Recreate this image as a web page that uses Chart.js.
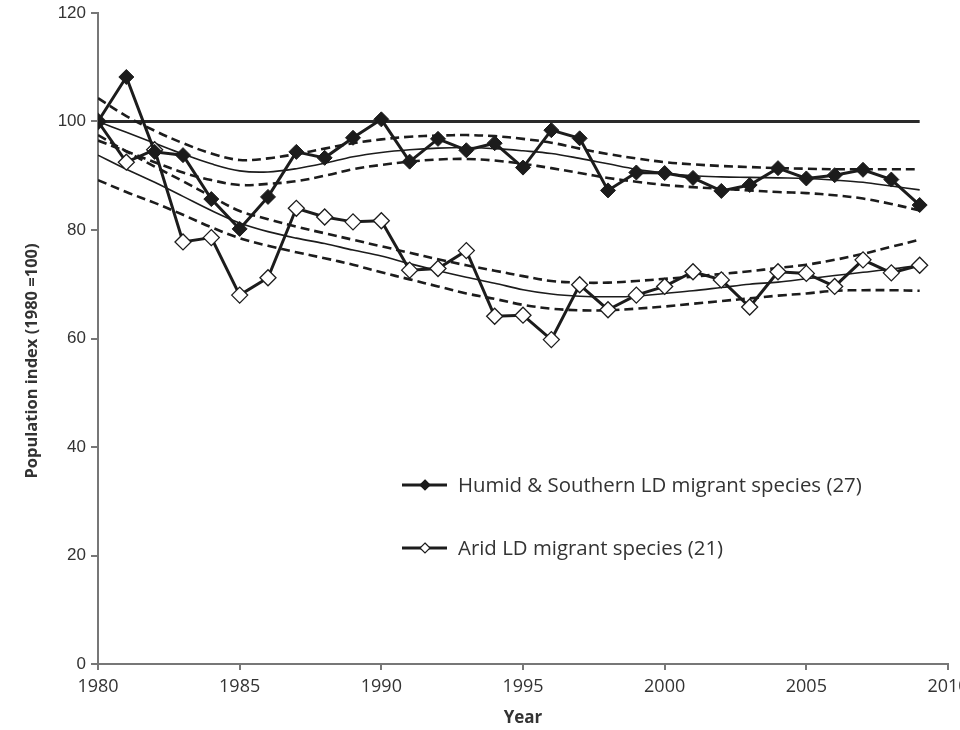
<!DOCTYPE html>
<html>
<head>
<meta charset="utf-8">
<script src="https://cdn.jsdelivr.net/npm/chart.js@4.4.1/dist/chart.umd.min.js"></script>
<style>
  html, body { margin: 0; padding: 0; background: #fff; }
  #wrap { position: relative; width: 960px; height: 730px; }
</style>
</head>
<body>
<div id="wrap"><canvas id="chart" width="960" height="730"></canvas></div>
<script>
// years 1980..2009
const years = [1980, 1981, 1982, 1983, 1984, 1985, 1986, 1987, 1988, 1989,
  1990, 1991, 1992, 1993, 1994, 1995, 1996, 1997, 1998, 1999,
  2000, 2001, 2002, 2003, 2004, 2005, 2006, 2007, 2008, 2009];

const humid = [100, 108.2, 94.4, 93.8, 85.7, 80.2, 86.1, 94.4, 93.3, 97.0,
  100.4, 92.6, 96.8, 94.7, 96.0, 91.5, 98.4, 96.9, 87.3, 90.6,
  90.5, 89.6, 87.2, 88.3, 91.4, 89.5, 90.1, 91.1, 89.3, 84.6];

const arid = [100, 92.5, 94.8, 77.8, 78.6, 68.0, 71.2, 84.0, 82.4, 81.5,
  81.7, 72.6, 72.9, 76.2, 64.1, 64.3, 59.8, 69.9, 65.3, 68.0,
  69.6, 72.3, 70.8, 65.8, 72.3, 72.0, 69.6, 74.5, 72.1, 73.5];

const humidTrend = [100, 98.0, 96.0, 94.0, 92.2, 90.9, 90.7, 91.3, 92.3, 93.5,
  94.3, 94.8, 95.1, 95.2, 95.0, 94.6, 94.1, 93.2, 92.2, 91.2,
  90.5, 90.0, 89.8, 89.7, 89.6, 89.5, 89.2, 88.8, 88.1, 87.4];
const humidUpper = [104.3, 101.0, 98.3, 96.0, 94.1, 92.9, 93.2, 94.0, 95.0, 96.0,
  96.7, 97.2, 97.4, 97.5, 97.3, 96.8, 96.1, 95.0, 94.0, 93.2,
  92.5, 92.1, 91.8, 91.6, 91.4, 91.3, 91.2, 91.2, 91.2, 91.2];
const humidLower = [96.5, 94.5, 92.5, 90.6, 89.2, 88.3, 88.5, 89.0, 90.0, 91.2,
  92.0, 92.6, 93.0, 93.1, 92.8, 92.2, 91.4, 90.5, 89.6, 88.9,
  88.3, 87.9, 87.6, 87.3, 87.0, 86.8, 86.4, 85.8, 84.8, 83.6];

const aridTrend = [93.8, 91.2, 88.8, 86.2, 83.6, 81.3, 79.7, 78.5, 77.5, 76.3,
  75.2, 73.8, 72.5, 71.3, 70.2, 69.0, 68.2, 67.8, 67.7, 67.8,
  68.3, 68.8, 69.4, 70.0, 70.4, 71.0, 71.6, 72.2, 72.8, 73.5];
const aridUpper = [97.5, 94.5, 91.7, 89.0, 86.2, 83.5, 82.0, 80.6, 79.4, 78.2,
  77.0, 75.8, 74.6, 73.5, 72.5, 71.5, 70.6, 70.3, 70.3, 70.6,
  71.0, 71.4, 71.9, 72.4, 73.0, 73.6, 74.5, 75.6, 76.9, 78.2];
const aridLower = [89.2, 87.0, 85.0, 82.8, 80.5, 78.5, 77.1, 75.9, 74.8, 73.6,
  72.2, 70.9, 69.6, 68.3, 67.3, 66.2, 65.5, 65.2, 65.2, 65.5,
  65.9, 66.4, 66.9, 67.4, 67.9, 68.3, 68.8, 68.9, 68.9, 68.8];

const baseline = years.map(() => 100);

const xTicks = [1980, 1985, 1990, 1995, 2000, 2005, 2010];
const yTicks = [0, 20, 40, 60, 80, 100, 120];

const seriesLabels = ['Humid & Southern LD migrant species (27)', 'Arid LD migrant species (21)'];
const yTitle = 'Population index (1980 =100)';

const pts = arr => arr.map((v, i) => ({ x: years[i], y: v }));

const INK = '#1c1c1c';
const FONT = '"Open Sans", "Noto Sans", sans-serif';

function band(data, dashed) {
  return {
    data: pts(data),
    borderColor: INK,
    borderWidth: dashed ? 2.6 : 1.6,
    borderDash: dashed ? [9, 5] : [],
    pointRadius: 0,
    tension: 0.35,
    fill: false
  };
}

// legend inside the plot + y title, drawn on the canvas
const extras = {
  id: 'extras',
  afterDatasetsDraw(chart) {
    const ctx = chart.ctx;
    const rows = [
      { y: 485, filled: true, text: seriesLabels[0] },
      { y: 548, filled: false, text: seriesLabels[1] }
    ];
    ctx.save();
    rows.forEach(r => {
      ctx.strokeStyle = INK;
      ctx.lineWidth = 3;
      ctx.beginPath();
      ctx.moveTo(402, r.y);
      ctx.lineTo(447, r.y);
      ctx.stroke();
      ctx.beginPath();
      ctx.moveTo(425, r.y - 5);
      ctx.lineTo(430, r.y);
      ctx.lineTo(425, r.y + 5);
      ctx.lineTo(420, r.y);
      ctx.closePath();
      ctx.fillStyle = r.filled ? INK : '#fff';
      ctx.fill();
      ctx.lineWidth = 1.2;
      ctx.stroke();
      ctx.fillStyle = '#333';
      ctx.font = '20.4px ' + FONT;
      ctx.textBaseline = 'middle';
      ctx.fillText(r.text, 458, r.y + 1);
    });

    ctx.translate(32, 361);
    ctx.rotate(-Math.PI / 2);
    ctx.font = 'bold 16.5px ' + FONT;
    ctx.textAlign = 'center';
    ctx.textBaseline = 'middle';
    ctx.fillStyle = '#333';
    ctx.fillText(yTitle, 0, 0);
    ctx.restore();
  }
};

new Chart(document.getElementById('chart'), {
  type: 'line',
  data: {
    datasets: [
      {
        label: seriesLabels[0],
        data: pts(humid),
        borderColor: INK,
        borderWidth: 3,
        pointStyle: 'rectRot',
        pointRadius: 7.5,
        pointBackgroundColor: INK,
        pointBorderColor: INK,
        pointBorderWidth: 1,
        tension: 0
      },
      {
        label: seriesLabels[1],
        data: pts(arid),
        borderColor: INK,
        borderWidth: 3,
        pointStyle: 'rectRot',
        pointRadius: 8,
        pointBackgroundColor: '#fff',
        pointBorderColor: INK,
        pointBorderWidth: 1.3,
        tension: 0
      },
      band(humidTrend, false),
      band(humidUpper, true),
      band(humidLower, true),
      band(aridTrend, false),
      band(aridUpper, true),
      band(aridLower, true),
      {
        data: pts(baseline),
        borderColor: '#2a2a2a',
        borderWidth: 3,
        pointRadius: 0
      }
    ]
  },
  options: {
    responsive: false,
    animation: false,
    layout: { padding: { left: 0, right: 12, top: 13, bottom: 0 } },
    plugins: {
      legend: { display: false },
      tooltip: { enabled: false }
    },
    scales: {
      x: {
        type: 'linear',
        min: 1980,
        max: 2010,
        afterBuildTicks: s => { s.ticks = xTicks.map(v => ({ value: v })); },
        afterFit: s => { s.height = 66; s.paddingRight = 0; s.paddingLeft = 0; },
        border: { color: '#777', width: 2 },
        grid: { drawOnChartArea: false, drawTicks: true, tickLength: 6, color: '#777', lineWidth: 2 },
        ticks: {
          color: '#333',
          padding: 6,
          maxRotation: 0,
          font: { family: FONT, size: 18 },
          callback: v => String(v)
        },
        title: {
          display: true,
          text: 'Year',
          color: '#333',
          padding: { top: 0, bottom: 2 },
          font: { family: FONT, size: 17, weight: 'bold' }
        }
      },
      y: {
        min: 0,
        max: 120,
        afterBuildTicks: s => { s.ticks = yTicks.map(v => ({ value: v })); },
        afterFit: s => { s.width = 98; s.paddingTop = 0; s.paddingBottom = 0; },
        border: { color: '#777', width: 2 },
        grid: { drawOnChartArea: false, drawTicks: true, tickLength: 7, color: '#777', lineWidth: 2 },
        ticks: {
          color: '#333',
          padding: 5,
          font: { family: '"Liberation Sans", "Open Sans", sans-serif', size: 17 }
        }
      }
    }
  },
  plugins: [extras]
});
</script>
</body>
</html>
